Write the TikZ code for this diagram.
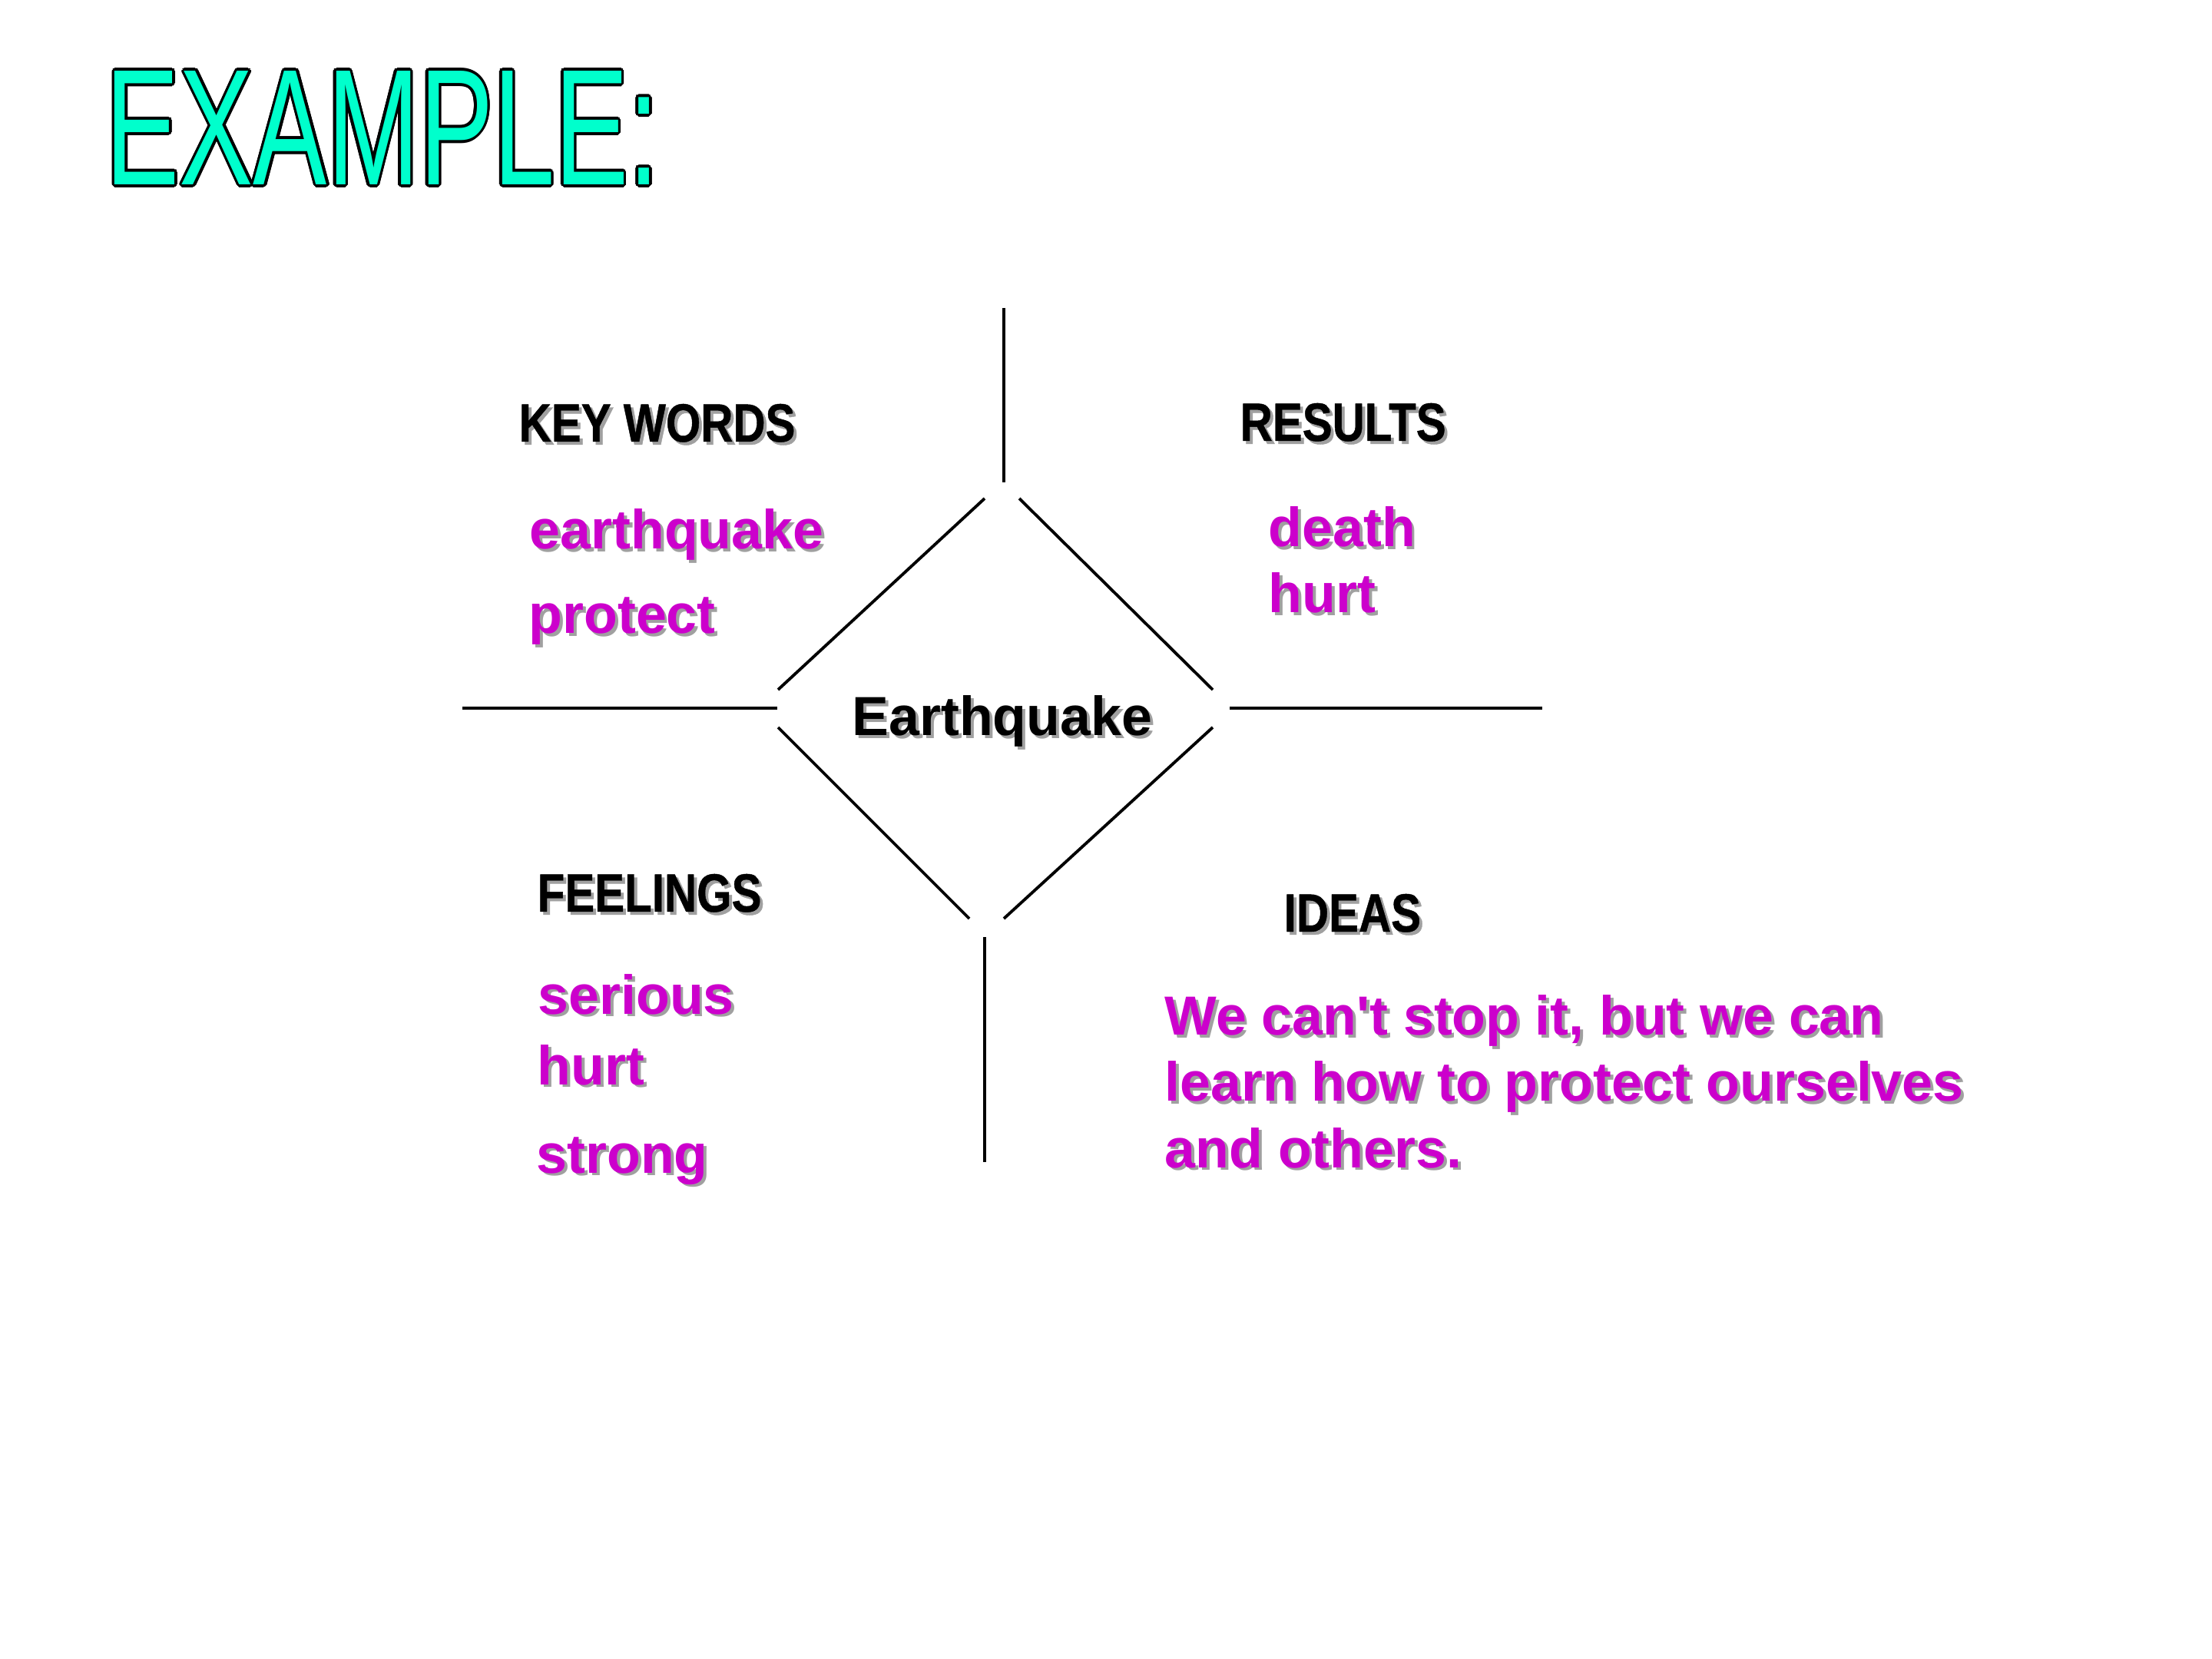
\documentclass[tikz,border=0pt]{standalone}
\usepackage{fontspec}
\usepackage{graphicx}
\setmainfont{Liberation Sans}
\newfontfamily\narrowfont[FakeStretch=0.83,FakeBold=0.6]{Liberation Sans}
\newfontfamily\bodyfont{Liberation Sans}
\definecolor{titlecyan}{HTML}{00FFCC}
\definecolor{mag}{HTML}{CC00CC}
\definecolor{shadowgray}{HTML}{A0A0A0}
\newcommand{\shd}[1]{\rlap{\kern1.1pt\raisebox{-1.1pt}{\textcolor{shadowgray}{#1}}}#1}
\newcommand{\ttltext}{\scalebox{0.67}[1]{\fontsize{61.2pt}{70pt}\selectfont EXAMPLE:}}
\newcommand{\oc}[2]{\rlap{\kern#1\raisebox{#2}{\textcolor{black}{\ttltext}}}}
\newcommand{\outlinedtitle}{%
  \oc{1pt}{0pt}\oc{.92pt}{.38pt}\oc{.71pt}{.71pt}\oc{.38pt}{.92pt}%
  \oc{0pt}{1pt}\oc{-.38pt}{.92pt}\oc{-.71pt}{.71pt}\oc{-.92pt}{.38pt}%
  \oc{-1pt}{0pt}\oc{-.92pt}{-.38pt}\oc{-.71pt}{-.71pt}\oc{-.38pt}{-.92pt}%
  \oc{0pt}{-1pt}\oc{.38pt}{-.92pt}\oc{.71pt}{-.71pt}\oc{.92pt}{-.38pt}%
  \textcolor{titlecyan}{\ttltext}}
\begin{document}
\begin{tikzpicture}[x=1cm,y=-1cm,
  rule/.style={line width=1.1pt, black},
  titlestyle/.style={anchor=base west, inner sep=0pt},
  head/.style={anchor=base west, inner sep=0pt, text=black,
    font=\narrowfont\bfseries\fontsize{20pt}{24pt}\selectfont},
  word/.style={anchor=base west, inner sep=0pt, text=mag, align=left,
    font=\bodyfont\bfseries\fontsize{20.4pt}{24.5pt}\selectfont},
  centreword/.style={anchor=base west, inner sep=0pt, text=black,
    font=\bodyfont\bfseries\fontsize{20.4pt}{24pt}\selectfont}]
\useasboundingbox[fill=white] (0,0) rectangle (28.8,21.6);
% title
\node[titlestyle] (ttl) at (1.37,2.405) {\outlinedtitle};
% headings
\node[head] (kw) at (6.75,5.75) {\shd{KEY WORDS}};
\node[head] (res) at (16.14,5.74) {\shd{RESULTS}};
\node[head] (feel) at (6.99,11.87) {\shd{FEELINGS}};
\node[head] (ideas) at (16.71,12.13) {\shd{IDEAS}};
% words (multi-line nodes are placed by the baseline of their last line)
\node[word] (w1) at (6.89,7.15) {\shd{earthquake}};
\node[word] (w2) at (6.88,8.25) {\shd{protect}};
\node[word] (r1) at (16.51,7.98) {\shd{death}\\\shd{hurt}};
\node[centreword] (eq) at (11.09,9.58) {\shd{Earthquake}};
\node[word] (f1) at (7.00,13.20) {\shd{serious}};
\node[word] (f2) at (6.99,14.12) {\shd{hurt}};
\node[word] (f3) at (6.98,15.27) {\shd{strong}};
\node[word] (idea) at (15.16,15.20) {\shd{We can't stop it, but we can}\\\shd{learn how to protect ourselves}\\\shd{and others.}};
% line end points
\coordinate (tv1) at (13.07,4.01);  \coordinate (tv2) at (13.07,6.28);
\coordinate (ul1) at (12.82,6.49);  \coordinate (ul2) at (10.13,8.98);
\coordinate (ur1) at (13.27,6.49);  \coordinate (ur2) at (15.79,8.98);
\coordinate (hl1) at (6.02,9.22);   \coordinate (hl2) at (10.12,9.22);
\coordinate (hr1) at (16.01,9.22);  \coordinate (hr2) at (20.08,9.22);
\coordinate (ll1) at (10.13,9.47);  \coordinate (ll2) at (12.62,11.96);
\coordinate (lr1) at (15.79,9.47);  \coordinate (lr2) at (13.07,11.96);
\coordinate (bv1) at (12.82,12.20); \coordinate (bv2) at (12.82,15.13);
\draw[rule] (tv1) -- (tv2);
\draw[rule] (ul1) -- (ul2);
\draw[rule] (ur1) -- (ur2);
\draw[rule] (hl1) -- (hl2);
\draw[rule] (hr1) -- (hr2);
\draw[rule] (ll1) -- (ll2);
\draw[rule] (lr1) -- (lr2);
\draw[rule] (bv1) -- (bv2);
\end{tikzpicture}
\end{document}
